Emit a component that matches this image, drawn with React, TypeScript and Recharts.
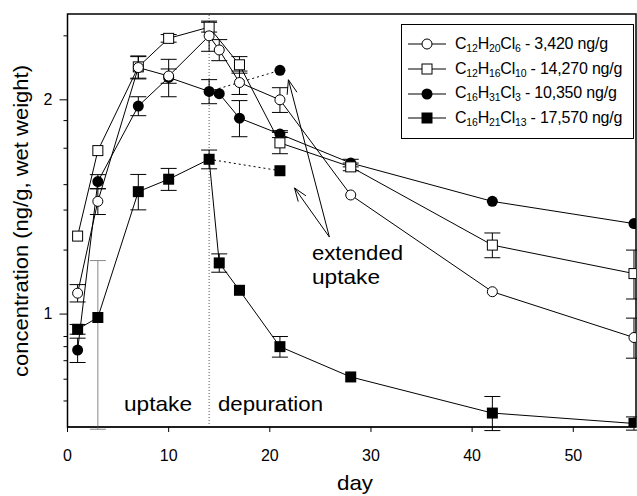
import React from "react";
import {
  LineChart,
  Line,
  XAxis,
  YAxis,
  ErrorBar,
  ReferenceLine,
  ReferenceArea,
  Legend,
} from "recharts";

// days and concentrations (ng/g wet weight, normalised)
const ocDays = [1, 3, 7, 10, 14, 15, 17, 21, 28, 42, 56];
const ocValues = [1.07, 1.44, 2.22, 2.16, 2.46, 2.35, 2.115, 2.0, 1.47, 1.075, 0.927];
const ocErrors = [0.03, 0.06, 0.08, 0.05, 0.12, 0.08, 0.08, 0.08, 0, 0, 0.06];

const osDays = [1, 3, 7, 10, 14, 17, 21, 28, 42, 56];
const osValues = [1.287, 1.697, 2.225, 2.44, 2.53, 2.24, 1.74, 1.61, 1.25, 1.14];
const osErrors = [0, 0, 0.08, 0.03, 0.04, 0.06, 0.06, 0.02, 0.05, 0.09];

const fcDays = [1, 3, 7, 10, 14, 15, 17, 21, 28, 42, 56];
const fcValues = [0.89, 1.535, 1.96, 2.15, 2.055, 2.04, 1.885, 1.79, 1.63, 1.44, 1.34];
const fcErrors = [0.035, 0.035, 0.06, 0.13, 0.08, 0, 0.11, 0.02, 0.02, 0, 0];

const fsDays = [1, 3, 7, 10, 14, 15, 17, 21, 28, 42, 56];
const fsValues = [0.952, 0.989, 1.486, 1.547, 1.65, 1.18, 1.08, 0.9, 0.816, 0.726, 0.702];
const fsErrors = [0.015, 0, 0.085, 0.055, 0.05, 0.035, 0, 0.03, 0, 0.04, 0.015];

// day-3 filled square has a big grey error bar [low, high]
const fsDay3 = { day: 3, value: 0.989, err: [0.3, 0.2] };

// extended uptake (dotted) branches
const fcExtDays = [14, 21];
const fcExtValues = [2.055, 2.2];
const fsExtDays = [14, 21];
const fsExtValues = [1.65, 1.59];

// arrows for "extended uptake" note, in [day, value]
const arrowTail = [25.89, 1.283];
const arrowHeads = [
  { tip: [21.84, 2.134], left: [21.71, 2.033], right: [22.68, 2.05] },
  { tip: [22.44, 1.504], left: [22.81, 1.439], right: [23.57, 1.466] },
];

const xTicks = [0, 10, 20, 30, 40, 50];
const majorYTicks = [1, 2];
const minorYTicks = [2.46, 1.87, 1.71, 1.52, 1.4, 1.23, 0.93, 0.9, 0.86, 0.81, 0.755];
const yTicks = [...majorYTicks, ...minorYTicks].sort((a, b) => a - b);

const legendFormulas = [
  [["C", "12"], ["H", "20"], ["Cl", "6"]],
  [["C", "12"], ["H", "16"], ["Cl", "10"]],
  [["C", "16"], ["H", "31"], ["Cl", "3"]],
  [["C", "16"], ["H", "21"], ["Cl", "13"]],
];
const legendAmounts = ["3,420 ng/g", "14,270 ng/g", "10,350 ng/g", "17,570 ng/g"];
const legendShapes = ["circleOpen", "squareOpen", "circleFilled", "squareFilled"];

const FONT = "'Liberation Sans', Arial, sans-serif";

const toRows = (days: number[], values: number[], errors?: number[]) =>
  days.map((d, i) => ({ day: d, value: values[i], err: errors ? errors[i] : 0 }));

const ocData = toRows(ocDays, ocValues, ocErrors);
const osData = toRows(osDays, osValues, osErrors);
const fcData = toRows(fcDays, fcValues, fcErrors);
const fsData = toRows(fsDays, fsValues, fsErrors);
const fcExtData = toRows(fcExtDays, fcExtValues);
const fsExtData = toRows(fsExtDays, fsExtValues);

const Marker = ({ shape, cx, cy }: { shape: string; cx: number; cy: number }) => {
  if (shape === "circleOpen")
    return <circle cx={cx} cy={cy} r={5} fill="#fff" stroke="#000" strokeWidth={1} />;
  if (shape === "squareOpen")
    return <rect x={cx - 5} y={cy - 5} width={10} height={10} fill="#fff" stroke="#000" strokeWidth={1} />;
  if (shape === "circleFilled") return <circle cx={cx} cy={cy} r={5.5} fill="#000" />;
  return <rect x={cx - 5.5} y={cy - 5.5} width={11} height={11} fill="#000" />;
};

const makeDot = (shape: string, onlyLast = false) => (props: any) => {
  const { cx, cy, index, points } = props;
  if (cx == null || cy == null) return <g key={`${shape}-${index}`} />;
  if (onlyLast && points && index !== points.length - 1) return <g key={`${shape}-${index}`} />;
  return (
    <g key={`${shape}-${index}`}>
      <Marker shape={shape} cx={cx} cy={cy} />
    </g>
  );
};

const YTick = (props: any) => {
  const { x, y, payload } = props;
  const major = majorYTicks.includes(payload.value);
  return (
    <g>
      <line x1={x - (major ? 8 : 4)} x2={x} y1={y} y2={y} stroke="#000" />
      {major && (
        <text x={x - 15} y={y} dy={5} textAnchor="end" fontSize={16} fontFamily={FONT} fill="#000">
          {payload.value}
        </text>
      )}
    </g>
  );
};

const renderLegend = () => (
  <div
    style={{
      border: "1px solid #000",
      background: "#fff",
      padding: "7px 2px 7px 6px",
      fontFamily: FONT,
      fontSize: 16,
      letterSpacing: "-0.2px",
      color: "#000",
      boxSizing: "border-box",
    }}
  >
    {legendFormulas.map((formula, i) => (
      <div key={i} style={{ display: "flex", alignItems: "center", height: 24.7, whiteSpace: "nowrap" }}>
        <svg width={38} height={20} style={{ flexShrink: 0 }}>
          <line x1={0} x2={38} y1={10} y2={10} stroke="#000" strokeWidth={1} />
          <Marker shape={legendShapes[i]} cx={19} cy={10} />
        </svg>
        <span style={{ marginLeft: 9, whiteSpace: "nowrap", flexShrink: 0 }}>
          {formula.map(([el, n]) => (
            <React.Fragment key={el}>
              {el}
              <sub style={{ fontSize: 10.5, verticalAlign: "-3px" }}>{n}</sub>
            </React.Fragment>
          ))}
          {" - " + legendAmounts[i]}
        </span>
      </div>
    ))}
  </div>
);

const App: React.FC = () => {
  const xMax = 56.2;
  const yDomain: [number, number] = [0.694, 2.64];

  return (
    <div style={{ position: "absolute", left: 0, top: 0, width: 637, height: 496, background: "#fff" }}>
      <LineChart
        width={637}
        height={496}
        margin={{ top: 14, right: 1, bottom: 0, left: 0 }}
        style={{ fontFamily: FONT }}
      >
        <XAxis
          type="number"
          dataKey="day"
          domain={[0, xMax]}
          ticks={xTicks}
          allowDataOverflow
          height={69}
          tickSize={5}
          tickMargin={18}
          stroke="#000"
          tick={{ fill: "#000", fontSize: 16, fontFamily: FONT }}
        />
        <YAxis
          type="number"
          scale="log"
          domain={yDomain}
          allowDataOverflow
          ticks={yTicks}
          interval={0}
          width={67.5}
          tickSize={0}
          tickMargin={0}
          stroke="#000"
          tick={<YTick />}
        />
        <ReferenceArea
          x1={0}
          x2={xMax}
          y1={yDomain[0]}
          y2={yDomain[1]}
          fill="none"
          stroke="#000"
          strokeWidth={1.5}
          fillOpacity={0}
        />
        <ReferenceLine x={14} stroke="#555" strokeDasharray="1 2" />

        {arrowHeads.map((a, i) => (
          <React.Fragment key={i}>
            <ReferenceLine
              segment={[
                { x: arrowTail[0], y: arrowTail[1] },
                { x: a.tip[0], y: a.tip[1] },
              ]}
              stroke="#000"
            />
            <ReferenceLine
              segment={[
                { x: a.left[0], y: a.left[1] },
                { x: a.tip[0], y: a.tip[1] },
              ]}
              stroke="#000"
            />
            <ReferenceLine
              segment={[
                { x: a.right[0], y: a.right[1] },
                { x: a.tip[0], y: a.tip[1] },
              ]}
              stroke="#000"
            />
          </React.Fragment>
        ))}

        <Line
          data={[fsDay3]}
          dataKey="value"
          stroke="none"
          dot={false}
          isAnimationActive={false}
          legendType="none"
        >
          <ErrorBar dataKey="err" width={8} stroke="#888" strokeWidth={1} direction="y" />
        </Line>

        <Line
          data={fcExtData}
          dataKey="value"
          stroke="#000"
          strokeWidth={1}
          strokeDasharray="2 3"
          dot={makeDot("circleFilled", true)}
          isAnimationActive={false}
        />
        <Line
          data={fsExtData}
          dataKey="value"
          stroke="#000"
          strokeWidth={1}
          strokeDasharray="2 3"
          dot={makeDot("squareFilled", true)}
          isAnimationActive={false}
        />

        <Line
          data={fsData}
          dataKey="value"
          stroke="#000"
          strokeWidth={1}
          dot={makeDot("squareFilled")}
          isAnimationActive={false}
        >
          <ErrorBar dataKey="err" width={8} stroke="#000" strokeWidth={1} direction="y" />
        </Line>
        <Line
          data={fcData}
          dataKey="value"
          stroke="#000"
          strokeWidth={1}
          dot={makeDot("circleFilled")}
          isAnimationActive={false}
        >
          <ErrorBar dataKey="err" width={8} stroke="#000" strokeWidth={1} direction="y" />
        </Line>
        <Line
          data={osData}
          dataKey="value"
          stroke="#000"
          strokeWidth={1}
          dot={makeDot("squareOpen")}
          isAnimationActive={false}
        >
          <ErrorBar dataKey="err" width={8} stroke="#000" strokeWidth={1} direction="y" />
        </Line>
        <Line
          data={ocData}
          dataKey="value"
          stroke="#000"
          strokeWidth={1}
          dot={makeDot("circleOpen")}
          isAnimationActive={false}
        >
          <ErrorBar dataKey="err" width={8} stroke="#000" strokeWidth={1} direction="y" />
        </Line>

        <Legend
          layout="vertical"
          align="center"
          verticalAlign="middle"
          content={renderLegend}
          wrapperStyle={{ position: "absolute", top: 24, left: 401, width: 233, height: "auto" }}
        />

        <text x={124} y={411} fontSize={21} fontFamily={FONT} fill="#000" textLength={68} lengthAdjust="spacingAndGlyphs">
          uptake
        </text>
        <text x={218} y={411} fontSize={21} fontFamily={FONT} fill="#000" textLength={105} lengthAdjust="spacingAndGlyphs">
          depuration
        </text>
        <text x={312} y={260} fontSize={21} fontFamily={FONT} fill="#000" textLength={91} lengthAdjust="spacingAndGlyphs">
          extended
        </text>
        <text x={312} y={284} fontSize={21} fontFamily={FONT} fill="#000" textLength={68} lengthAdjust="spacingAndGlyphs">
          uptake
        </text>
        <text x={355} y={490} fontSize={21} fontFamily={FONT} fill="#000" textAnchor="middle" textLength={36} lengthAdjust="spacingAndGlyphs">
          day
        </text>
        <text
          x={28}
          y={221}
          fontSize={21}
          fontFamily={FONT}
          fill="#000"
          textAnchor="middle"
          textLength={312}
          lengthAdjust="spacingAndGlyphs"
          transform="rotate(-90 28 221)"
        >
          concentration (ng/g, wet weight)
        </text>
      </LineChart>
    </div>
  );
};

export default App;
